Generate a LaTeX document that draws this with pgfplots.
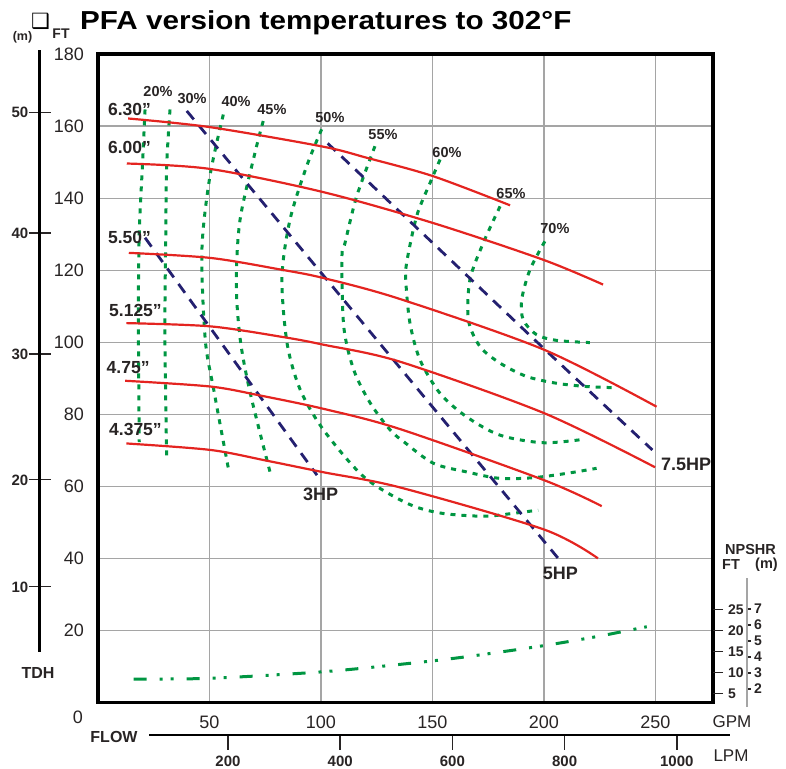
\documentclass[border=0pt]{standalone}
\usepackage{fontspec}
\setmainfont{Liberation Sans}
\newfontfamily\symfont{DejaVu Sans}
\usepackage{graphicx}
\usepackage{pgfplots}
\pgfplotsset{compat=1.18}

\definecolor{curvered}{RGB}{228,36,32}
\definecolor{hpblue}{RGB}{36,32,112}
\definecolor{effgreen}{RGB}{0,150,66}
\definecolor{gridgray}{RGB}{165,165,165}
\definecolor{labelgray}{RGB}{40,36,36}

\newcommand{\fs}[1]{\fontsize{#1}{#1}\selectfont}

\tikzset{
  imp/.style={curvered, line width=2.2pt, smooth},
  hp/.style={hpblue, line width=2.8pt, dash pattern=on 11pt off 8pt},
  eff/.style={effgreen, line width=3pt, dash pattern=on 5pt off 6pt, smooth},
  lab/.style={font=\bfseries\fs{17.5}, text=labelgray, inner sep=0pt},
  pct/.style={font=\bfseries\fs{14.5}, text=labelgray, inner sep=0pt},
}

\begin{document}
\begin{tikzpicture}[x=1pt,y=1pt]
\useasboundingbox (0,0) rectangle (786,768);

% main TDH / flow axis
\begin{axis}[
  at={(98pt,65.5pt)}, anchor=south west,
  scale only axis, width=615pt, height=648.5pt,
  xmin=0, xmax=275.8, ymin=0, ymax=180,
  xtick={50,100,...,250}, ytick={20,40,...,180},
  grid=major,
  major grid style={gridgray, line width=1.1pt},
  major tick length=0pt,
  axis line style={line width=3.5pt, black},
  /pgf/number format/assume math mode=true,
  tick label style={font=\fs{18}, text=labelgray, inner sep=0pt},
  yticklabel style={anchor=east, xshift=-14pt},
  xticklabel style={anchor=north, yshift=-13pt},
  clip=false,
]
% efficiency contours
\addplot[eff] coordinates {(21.1,164.6) (20.0,149.9) (18.5,130.4) (18.1,107.1) (18.5,72.3)};
\addplot[eff] coordinates {(32.3,164.6) (30.8,149.1) (30.4,130.4) (30.0,102.6) (30.8,67.8)};
\addplot[eff] coordinates {(56.2,163.2) (50.2,146.1) (46.6,125.7) (48.1,100.7) (51.9,86.8) (58.6,64.5)};
\addplot[eff] coordinates {(74.1,161.4) (70.4,152.6) (63.7,134.0) (62.0,116.4) (63.8,100.7) (68.3,85.8) (77.3,63.6)};
\addplot[eff] coordinates {(100.3,159.1) (93.6,148.9) (86.1,134.0) (82.5,118.0) (84.8,99.7) (90.7,86.8) (101.2,75.6) (119.1,62.7) (138.6,55.3) (153.4,52.6) (172.8,51.7) (186.2,52.5) (197.4,53.4)};
\addplot[eff] coordinates {(124.2,154.4) (116.0,140.5) (110.8,127.6) (109.4,123.8) (110.2,104.4) (114.7,92.3) (122.1,83.1) (131.1,75.6) (137.7,72.1) (150.4,66.4) (165.3,64.0) (180.3,62.2) (195.2,62.4) (210.2,63.6) (223.6,65.0)};
\addplot[eff] coordinates {(153.4,150.7) (148.9,144.2) (142.9,135.0) (138.4,122.0) (138.1,116.4) (139.9,105.3) (144.4,95.1) (153.4,85.8) (165.3,79.3) (180.3,74.2) (199.7,72.1) (218.4,73.1)};
\addplot[eff] coordinates {(180.3,137.7) (172.8,127.6) (166.8,117.4) (166.1,106.2) (171.3,98.8) (180.3,94.2) (192.2,90.5) (205.7,88.6) (219.1,87.7) (230.4,87.4)};
\addplot[eff] coordinates {(200.4,128.0) (193.7,120.1) (190.0,111.8) (190.7,106.2) (196.7,102.1) (205.7,100.5) (220.6,99.9)};

% horsepower lines
\addplot[hp] coordinates {(21.1,129.0) (98.2,63.1)};
\addplot[hp] coordinates {(39.8,164.2) (206.4,40.0)};
\addplot[hp, smooth] coordinates {(103.0,155.2) (154.1,125.2) (199.7,98.4) (248.6,70.1)};

% impeller curves
\addplot[imp] coordinates {(13.5,162.1) (50.2,159.7) (100.8,154.3) (120.5,151.2) (150.2,146.1) (184.8,138.0)};
\addplot[imp] coordinates {(12.9,149.6) (50.2,148.1) (100.8,141.7) (150.2,133.1) (199.6,122.9) (226.5,116.0)};
\addplot[imp] coordinates {(13.8,124.8) (50.4,123.4) (82.5,120.1) (101.2,117.8) (135.4,112.0) (200.1,97.9) (250.5,82.1)};
\addplot[imp] coordinates {(12.7,105.3) (50.4,104.4) (83.3,101.4) (101.2,99.3) (135.4,94.6) (200.1,80.3) (249.8,65.3)};
\addplot[imp] coordinates {(12.2,89.3) (50.4,87.7) (72.8,85.2) (101.2,81.5) (135.4,75.9) (200.1,61.7) (225.9,54.5)};
\addplot[imp] coordinates {(12.7,71.9) (50.4,70.1) (75.8,67.1) (101.2,63.9) (135.4,59.7) (200.1,48.0) (224.2,40.0)};

% labels
\node[lab] at (axis cs:14.1,164.6) {6.30\symbol{34}};
\node[lab] at (axis cs:14.1,154.0) {6.00\symbol{34}};
\node[lab] at (axis cs:14.1,129.1) {5.50\symbol{34}};
\node[lab] at (axis cs:16.8,108.9) {5.125\symbol{34}};
\node[lab] at (axis cs:13.5,93.0) {4.75\symbol{34}};
\node[lab] at (axis cs:16.8,75.8) {4.375\symbol{34}};

\node[pct] at (axis cs:26.9,169.6) {20\%};
\node[pct] at (axis cs:42.2,167.6) {30\%};
\node[pct] at (axis cs:61.9,166.7) {40\%};
\node[pct] at (axis cs:78.0,164.7) {45\%};
\node[pct] at (axis cs:104.0,162.5) {50\%};
\node[pct] at (axis cs:127.8,157.7) {55\%};
\node[pct] at (axis cs:156.5,152.7) {60\%};
\node[pct] at (axis cs:185.2,141.4) {65\%};
\node[pct] at (axis cs:204.9,131.7) {70\%};

\node[lab, font=\bfseries\fs{18}] at (axis cs:99.8,57.7) {3HP};
\node[lab, font=\bfseries\fs{18}] at (axis cs:207.4,35.7) {5HP};
\node[lab, font=\bfseries\fs{18}] at (axis cs:263.7,66.1) {7.5HP};
\end{axis}

% NPSHR (ft) scale, same frame
\begin{axis}[
  at={(98pt,65.5pt)}, anchor=south west,
  scale only axis, width=615pt, height=648.5pt,
  xmin=0, xmax=275.8, ymin=2.857, ymax=157.26,
  axis x line=none, axis y line*=right,
  y axis line style={draw=none},
  ytick={5,10,15,20,25},
  tick align=outside, major tick length=10pt,
  ytick style={labelgray, line width=1.3pt},
  /pgf/number format/assume math mode=true,
  yticklabel style={font=\bfseries\fs{14}, text=labelgray, anchor=west, inner sep=0pt, xshift=5pt},
  clip=false,
]
\addplot[effgreen, line width=3pt, dash pattern=on 13pt off 13pt on 3pt off 8pt on 3pt off 13pt, smooth]
  coordinates {(16.0,8.45) (50.4,8.62) (101.2,10.19) (140.0,12.19) (165.3,13.76) (199.7,16.38) (225.1,18.69) (246.1,20.90)};
\end{axis}

% NPSHR (m) scale
\begin{axis}[
  at={(746pt,61pt)}, anchor=south west,
  scale only axis, width=1pt, height=129pt,
  xmin=0, xmax=1, ymin=0.875, ymax=8.9375,
  axis x line=none, axis y line*=right,
  y axis line style={gridgray, line width=1.5pt, -},
  ytick={2,...,7}, tick align=outside, major tick length=4pt,
  ytick style={labelgray, line width=1.2pt},
  /pgf/number format/assume math mode=true,
  yticklabel style={font=\bfseries\fs{14}, text=labelgray, anchor=west, inner sep=0pt, xshift=3pt},
]
\end{axis}

% TDH (m) scale
\begin{axis}[
  at={(40pt,116pt)}, anchor=south west,
  scale only axis, width=1pt, height=602pt,
  xmin=0, xmax=1, ymin=14.02, ymax=181.1,
  axis x line=none, axis y line*=left,
  y axis line style={black, line width=3pt, -},
  ytick={32.1,61.8,96.7,130.3,163.8}, yticklabels={10,20,30,40,50},
  tick align=center, major tick length=23pt,
  ytick style={labelgray, line width=1.2pt},
  yticklabel style={font=\bfseries\fs{15}, text=labelgray, anchor=east, inner sep=0pt},
]
\end{axis}

% LPM scale
\begin{axis}[
  at={(149pt,33pt)}, anchor=south west,
  scale only axis, width=581pt, height=1pt,
  xmin=59.18, xmax=1094.8, ymin=0, ymax=1,
  axis y line=none, axis x line*=bottom,
  x axis line style={black, line width=2pt, -},
  xtick={200,400,...,1000},
  tick align=outside, major tick length=15pt,
  xtick style={labelgray, line width=1.5pt},
  /pgf/number format/assume math mode=true,
  /pgf/number format/1000 sep={},
  xticklabel style={font=\bfseries\fs{15}, text=labelgray, anchor=north, inner sep=0pt, yshift=-5.5pt},
]
\end{axis}

% titles and axis names
\node[anchor=base west, inner sep=0pt] at (80,738) {\scalebox{1.14}[1]{\bfseries\fs{26}PFA version temperatures to 302°F}};
\node[inner sep=0pt] at (40.5,746.5) {\symfont\fs{21}❑};
\node[inner sep=0pt, text=labelgray] at (22.5,731) {\bfseries\fs{12.5}(m)};
\node[inner sep=0pt, text=labelgray] at (61,734) {\bfseries\fs{14}FT};
\node[inner sep=0pt, text=labelgray] at (38,95) {\bfseries\fs{16}TDH};
\node[inner sep=0pt, text=labelgray] at (78,51) {\fs{18}0};
\node[inner sep=0pt, text=labelgray] at (732,46) {\fs{17}GPM};
\node[inner sep=0pt, text=labelgray] at (114,31) {\bfseries\fs{16}FLOW};
\node[inner sep=0pt, text=labelgray] at (731,12) {\fs{17}LPM};
\node[inner sep=0pt, text=labelgray] at (750.5,218) {\bfseries\fs{14.5}NPSHR};
\node[inner sep=0pt, text=labelgray] at (731,203) {\bfseries\fs{14.5}FT};
\node[inner sep=0pt, text=labelgray] at (766.5,203) {\bfseries\fs{14.5}(m)};
\end{tikzpicture}
\end{document}
